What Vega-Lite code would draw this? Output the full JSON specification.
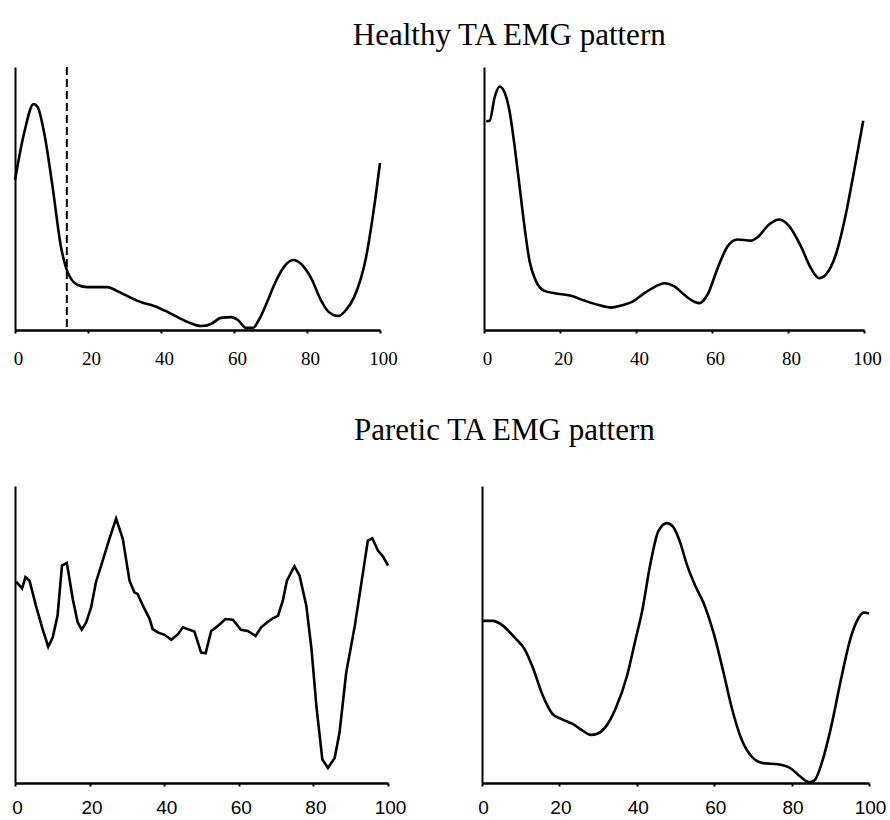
{
  "$schema": "https://vega.github.io/schema/vega-lite/v6.json",
  "background": "white",
  "padding": {"left": 9, "top": 20, "right": 0, "bottom": 0},
  "datasets": {
    "h1": [
      {"x": 0, "y": 57.0}, {"x": 2.5, "y": 74.9}, {"x": 5.1, "y": 85.9}, {"x": 6.2, "y": 84.8},
      {"x": 8.0, "y": 74.9}, {"x": 10.3, "y": 54.4}, {"x": 12.6, "y": 31.6}, {"x": 14.4, "y": 22.1},
      {"x": 17.2, "y": 17.1}, {"x": 19.9, "y": 16.3}, {"x": 25.4, "y": 16.3}, {"x": 28.0, "y": 14.8},
      {"x": 34.5, "y": 10.6}, {"x": 38.1, "y": 9.1}, {"x": 41.9, "y": 6.8}, {"x": 47.4, "y": 3.0},
      {"x": 51.0, "y": 1.5}, {"x": 53.7, "y": 2.3}, {"x": 56.4, "y": 4.6}, {"x": 59.2, "y": 4.9},
      {"x": 61.1, "y": 3.8}, {"x": 63.3, "y": 0.8}, {"x": 65.2, "y": 0.8}, {"x": 66.8, "y": 3.8},
      {"x": 69.3, "y": 11.4}, {"x": 71.0, "y": 17.1}, {"x": 73.7, "y": 24.0}, {"x": 76.2, "y": 26.6},
      {"x": 78.4, "y": 25.1}, {"x": 81.1, "y": 19.8}, {"x": 83.8, "y": 11.4}, {"x": 86.0, "y": 6.8},
      {"x": 88.5, "y": 5.3}, {"x": 90.7, "y": 7.6}, {"x": 92.9, "y": 12.5}, {"x": 96.2, "y": 27.8},
      {"x": 98.4, "y": 46.8}, {"x": 100, "y": 63.5}
    ],
    "h2": [
      {"x": 0.6, "y": 79.4}, {"x": 1.5, "y": 79.6}, {"x": 2.8, "y": 88.5}, {"x": 4.1, "y": 92.6},
      {"x": 5.4, "y": 90.4}, {"x": 6.7, "y": 83.4}, {"x": 8.1, "y": 69.4}, {"x": 9.4, "y": 54.1},
      {"x": 10.7, "y": 38.8}, {"x": 12.0, "y": 26.1}, {"x": 13.7, "y": 18.5}, {"x": 15.9, "y": 14.9},
      {"x": 18.6, "y": 14.0}, {"x": 22.9, "y": 13.0}, {"x": 26.4, "y": 11.2}, {"x": 29.9, "y": 9.6},
      {"x": 33.5, "y": 8.5}, {"x": 36.1, "y": 9.3}, {"x": 39.1, "y": 10.8}, {"x": 42.2, "y": 14.0},
      {"x": 44.8, "y": 16.3}, {"x": 47.5, "y": 17.8}, {"x": 50.1, "y": 16.6}, {"x": 52.7, "y": 13.4},
      {"x": 55.3, "y": 10.8}, {"x": 56.7, "y": 10.2}, {"x": 58.8, "y": 13.4}, {"x": 61.5, "y": 23.6},
      {"x": 64.1, "y": 31.8}, {"x": 66.7, "y": 34.4}, {"x": 70.2, "y": 34.0}, {"x": 72.0, "y": 35.3},
      {"x": 75.0, "y": 40.1}, {"x": 77.7, "y": 42.0}, {"x": 80.3, "y": 39.5}, {"x": 83.4, "y": 31.8},
      {"x": 86.0, "y": 23.6}, {"x": 88.2, "y": 19.7}, {"x": 89.9, "y": 21.0}, {"x": 92.6, "y": 28.7},
      {"x": 95.2, "y": 43.9}, {"x": 97.4, "y": 60.5}, {"x": 99.8, "y": 79.6}
    ],
    "p1": [
      {"x": 0.3, "y": 67.8}, {"x": 1.9, "y": 65.5}, {"x": 2.8, "y": 69.3}, {"x": 3.9, "y": 68.1},
      {"x": 5.6, "y": 59.7}, {"x": 7.4, "y": 51.8}, {"x": 8.9, "y": 45.9}, {"x": 10.1, "y": 49.0},
      {"x": 11.4, "y": 56.3}, {"x": 12.6, "y": 73.2}, {"x": 13.9, "y": 74.1}, {"x": 15.5, "y": 61.9},
      {"x": 16.8, "y": 54.1}, {"x": 17.9, "y": 51.6}, {"x": 19.1, "y": 54.1}, {"x": 20.4, "y": 59.1},
      {"x": 21.7, "y": 67.6}, {"x": 23.1, "y": 73.2}, {"x": 25.3, "y": 82.2}, {"x": 27.1, "y": 89.0},
      {"x": 28.9, "y": 82.2}, {"x": 30.7, "y": 68.1}, {"x": 32.0, "y": 64.2}, {"x": 32.9, "y": 63.6},
      {"x": 34.3, "y": 59.7}, {"x": 36.1, "y": 55.2}, {"x": 36.9, "y": 51.8}, {"x": 38.3, "y": 50.7},
      {"x": 40.1, "y": 49.9}, {"x": 41.9, "y": 48.2}, {"x": 43.7, "y": 50.1}, {"x": 45.0, "y": 52.4},
      {"x": 46.3, "y": 51.8}, {"x": 48.1, "y": 51.0}, {"x": 49.9, "y": 43.9}, {"x": 51.1, "y": 43.7},
      {"x": 52.6, "y": 51.2}, {"x": 54.4, "y": 52.9}, {"x": 56.4, "y": 55.2}, {"x": 58.4, "y": 55.0},
      {"x": 60.6, "y": 51.6}, {"x": 62.4, "y": 51.2}, {"x": 64.5, "y": 49.5}, {"x": 66.0, "y": 52.4},
      {"x": 67.8, "y": 54.3}, {"x": 69.1, "y": 55.4}, {"x": 70.5, "y": 56.3}, {"x": 71.8, "y": 61.4},
      {"x": 72.9, "y": 68.1}, {"x": 74.9, "y": 73.0}, {"x": 76.3, "y": 69.8}, {"x": 78.1, "y": 59.7},
      {"x": 79.5, "y": 45.0}, {"x": 80.8, "y": 25.9}, {"x": 82.4, "y": 7.9}, {"x": 83.9, "y": 5.1},
      {"x": 85.7, "y": 8.4}, {"x": 87.0, "y": 16.9}, {"x": 88.8, "y": 37.2}, {"x": 91.1, "y": 52.9},
      {"x": 93.3, "y": 70.9}, {"x": 94.6, "y": 81.6}, {"x": 95.8, "y": 82.4}, {"x": 97.3, "y": 78.3},
      {"x": 98.8, "y": 76.0}, {"x": 100, "y": 73.2}
    ],
    "p2": [
      {"x": 0, "y": 54.6}, {"x": 2.8, "y": 54.6}, {"x": 5.4, "y": 53.0}, {"x": 8.4, "y": 49.0},
      {"x": 11.0, "y": 45.1}, {"x": 13.1, "y": 39.0}, {"x": 15.7, "y": 29.5}, {"x": 18.2, "y": 23.3},
      {"x": 20.4, "y": 21.6}, {"x": 23.4, "y": 19.9}, {"x": 25.9, "y": 17.7}, {"x": 28.1, "y": 16.2},
      {"x": 29.8, "y": 16.6}, {"x": 31.9, "y": 18.8}, {"x": 34.5, "y": 25.0}, {"x": 37.5, "y": 36.2},
      {"x": 39.6, "y": 47.9}, {"x": 41.4, "y": 58.0}, {"x": 43.5, "y": 73.7}, {"x": 45.6, "y": 84.9},
      {"x": 47.8, "y": 87.5}, {"x": 49.5, "y": 86.0}, {"x": 51.2, "y": 81.0}, {"x": 52.9, "y": 73.7},
      {"x": 55.1, "y": 66.4}, {"x": 57.2, "y": 60.8}, {"x": 59.8, "y": 50.7}, {"x": 62.3, "y": 37.8},
      {"x": 64.5, "y": 25.5}, {"x": 67.0, "y": 14.9}, {"x": 69.6, "y": 9.0}, {"x": 72.6, "y": 6.7},
      {"x": 76.5, "y": 6.3}, {"x": 79.9, "y": 4.8}, {"x": 82.4, "y": 2.0}, {"x": 84.6, "y": 0.3},
      {"x": 85.9, "y": 0.9}, {"x": 88.0, "y": 7.6}, {"x": 90.2, "y": 18.8}, {"x": 92.7, "y": 34.5},
      {"x": 95.3, "y": 49.0}, {"x": 97.4, "y": 55.8}, {"x": 98.7, "y": 57.4}, {"x": 100, "y": 57.1}
    ],
    "toeoff": [{"x": 14.2}]
  },
  "vconcat": [
    {
      "title": {"text": "Healthy TA EMG pattern", "anchor": "start", "frame": "bounds", "dx": 343, "offset": 14, "font": "Liberation Serif", "fontSize": 31, "fontWeight": "normal", "color": "black"},
      "bounds": "flush",
      "spacing": 104,
      "hconcat": [
        {
          "width": 365, "height": 263,
          "layer": [
            {
              "data": {"name": "h1"},
              "mark": {"type": "line", "color": "black", "strokeWidth": 2.6, "interpolate": "monotone"},
              "encoding": {
                "x": {"field": "x", "type": "quantitative", "scale": {"domain": [0, 100], "nice": false},
                      "axis": {"values": [0, 20, 40, 60, 80, 100], "labelFont": "Liberation Serif", "labelFontSize": 19, "labelPadding": 16, "labelOffset": 3}},
                "y": {"field": "y", "type": "quantitative", "scale": {"domain": [0, 100], "nice": false}}
              }
            },
            {
              "data": {"name": "toeoff"},
              "mark": {"type": "rule", "color": "black", "strokeWidth": 2, "strokeDash": [8, 4]},
              "encoding": {"x": {"field": "x", "type": "quantitative"}}
            }
          ]
        },
        {
          "width": 380, "height": 263,
          "data": {"name": "h2"},
          "mark": {"type": "line", "color": "black", "strokeWidth": 2.6, "interpolate": "monotone"},
          "encoding": {
            "x": {"field": "x", "type": "quantitative", "scale": {"domain": [0, 100], "nice": false},
                  "axis": {"values": [0, 20, 40, 60, 80, 100], "labelFont": "Liberation Serif", "labelFontSize": 19, "labelPadding": 16, "labelOffset": 3}},
            "y": {"field": "y", "type": "quantitative", "scale": {"domain": [0, 100], "nice": false}}
          }
        }
      ]
    },
    {
      "title": {"text": "Paretic TA EMG pattern", "anchor": "start", "frame": "bounds", "dx": 343, "offset": 39, "font": "Liberation Serif", "fontSize": 31, "fontWeight": "normal", "color": "black"},
      "bounds": "flush",
      "spacing": 94,
      "hconcat": [
        {
          "width": 373, "height": 297,
          "data": {"name": "p1"},
          "mark": {"type": "line", "color": "black", "strokeWidth": 2.6, "interpolate": "linear"},
          "encoding": {
            "x": {"field": "x", "type": "quantitative", "scale": {"domain": [0, 100], "nice": false},
                  "axis": {"values": [0, 20, 40, 60, 80, 100], "labelFont": "Liberation Sans", "labelFontSize": 19, "labelPadding": 12, "labelOffset": 2}},
            "y": {"field": "y", "type": "quantitative", "scale": {"domain": [0, 100], "nice": false}}
          }
        },
        {
          "width": 387, "height": 297,
          "data": {"name": "p2"},
          "mark": {"type": "line", "color": "black", "strokeWidth": 2.6, "interpolate": "monotone"},
          "encoding": {
            "x": {"field": "x", "type": "quantitative", "scale": {"domain": [0, 100], "nice": false},
                  "axis": {"values": [0, 20, 40, 60, 80, 100], "labelFont": "Liberation Sans", "labelFontSize": 19, "labelPadding": 12, "labelOffset": 1}},
            "y": {"field": "y", "type": "quantitative", "scale": {"domain": [0, 100], "nice": false}}
          }
        }
      ]
    }
  ],
  "spacing": 47,
  "config": {
    "view": {"stroke": null},
    "axis": {"grid": false, "title": null, "domainColor": "black", "tickColor": "black", "labelColor": "black", "labelFlush": false, "labelOverlap": false},
    "axisX": {"domainWidth": 2.5, "tickSize": 3, "tickWidth": 2, "labelAngle": 0},
    "axisY": {"domainWidth": 2, "ticks": false, "labels": false}
  }
}
